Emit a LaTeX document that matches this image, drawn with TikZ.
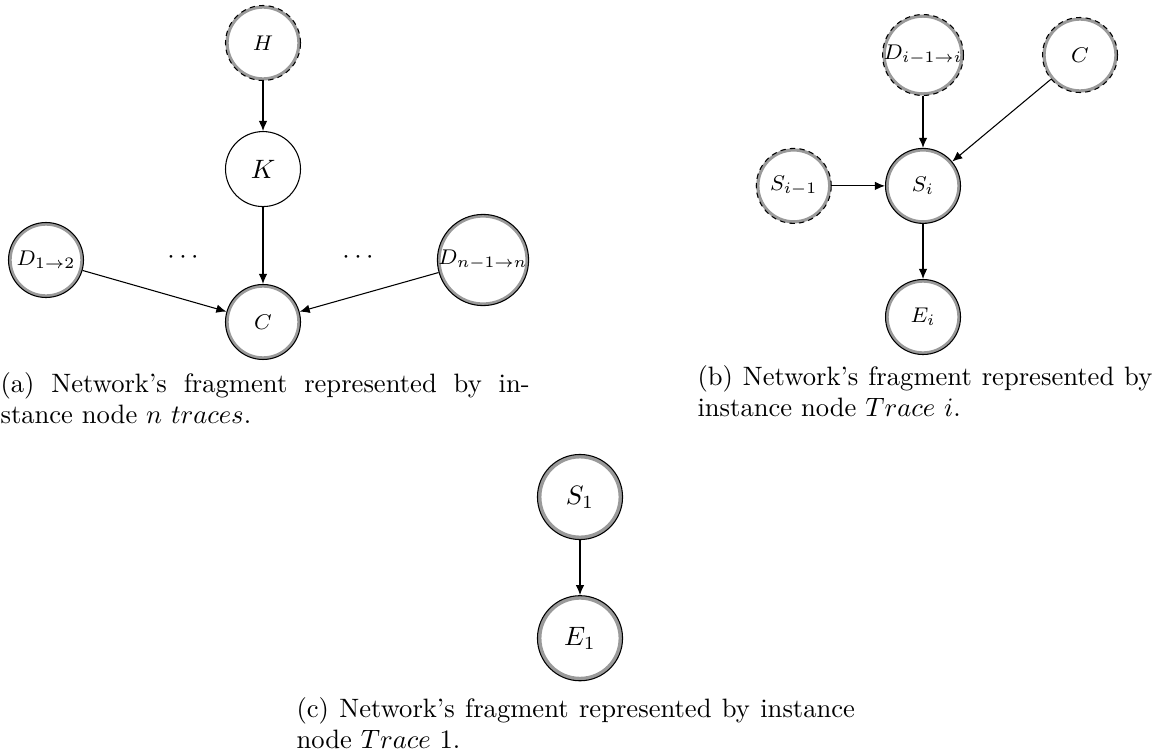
\documentclass[tikz,border=0pt]{standalone}
\usepackage{xcolor}
\usepackage{tikz}
\usetikzlibrary{arrows.meta,calc,positioning}
\definecolor{netring}{HTML}{9A9A9A}
\tikzset{%
  netnode/.style={%
    circle,
    draw=black,
    line width=0.4pt,
    fill=white,
    inner sep=0pt,
    minimum size=28.2pt,
    font=\footnotesize
  },
  netringline/.style={solid,draw=netring,line width=2.4pt},
  netobserved/.style={%
    netnode,
    path picture={%
      \draw[netringline]
        let \p1=($(path picture bounding box.east)-(path picture bounding box.center)$)
        in (path picture bounding box.center) circle[radius=\x1];
    }
  },
  netsoft/.style={netobserved,dash pattern=on 2pt off 1.6pt},
  netarrow/.style={-{Latex[length=3.8pt,width=3.2pt]},draw=black,line width=0.4pt},
  netcaption/.style={inner sep=0pt,align=justify,anchor=base west,font=\normalsize}
}
\begin{document}
\begin{tikzpicture}[x=0.376pt,y=-0.376pt,node distance=20pt]
  \useasboundingbox (0,0) rectangle (1157,754);
  % (a) n traces
  \node[netsoft] (hyp) at (263,43) {$H$};
  \node[netnode,font=\normalsize,below=18.8pt of hyp] (key) {$K$};
  \node[netobserved,below=28.9pt of key] (ciph) {$C$};
  \node[netobserved] (dfirst) at (46,260) {$D_{1\to2}$};
  \node[netobserved] (dlast) at (483,260) {$D_{n-1\to n}$};
  \node (dotsl) at (183,258) {$\cdots$};
  \node (dotsr) at (358,258) {$\cdots$};
  \node[netcaption,text width=199pt] (capa) at (0,392)
    {(a) Network's fragment represented by in-\linebreak stance node $n$ $traces$.};
  \draw[netarrow] (hyp) -- (key);
  \draw[netarrow] (key) -- (ciph);
  \draw[netarrow] (dfirst) -- (ciph);
  \draw[netarrow] (dlast) -- (ciph);

  % (b) trace i
  \node[netsoft] (dstep) at (923,55) {$D_{i-1\to i}$};
  \node[netsoft] (cipb) at (1080,55) {$C$};
  \node[netobserved,below=19.5pt of dstep] (scur) {$S_i$};
  \node[netsoft,left=20pt of scur] (sprev) {$S_{i-1}$};
  \node[netobserved,below=20.7pt of scur] (ecur) {$E_i$};
  \node[netcaption,text width=171pt] (capb) at (697,385)
    {(b) Network's fragment represented by\linebreak instance node $Trace\ i$.};
  \draw[netarrow] (dstep) -- (scur);
  \draw[netarrow] (cipb) -- (scur);
  \draw[netarrow] (sprev) -- (scur);
  \draw[netarrow] (scur) -- (ecur);

  % (c) trace 1
  \begin{scope}[netringline/.style={solid,draw=netring,line width=3pt}]
    \node[netobserved,minimum size=32pt,font=\normalsize] (sone) at (580,497) {$S_1$};
    \node[netobserved,minimum size=32pt,font=\normalsize,below=20.7pt of sone] (eone) {$E_1$};
  \end{scope}
  \node[netcaption,text width=210pt] (capc) at (296,717)
    {(c) Network's fragment represented by instance\linebreak node $Trace$ 1.};
  \draw[netarrow] (sone) -- (eone);
\end{tikzpicture}
\end{document}
